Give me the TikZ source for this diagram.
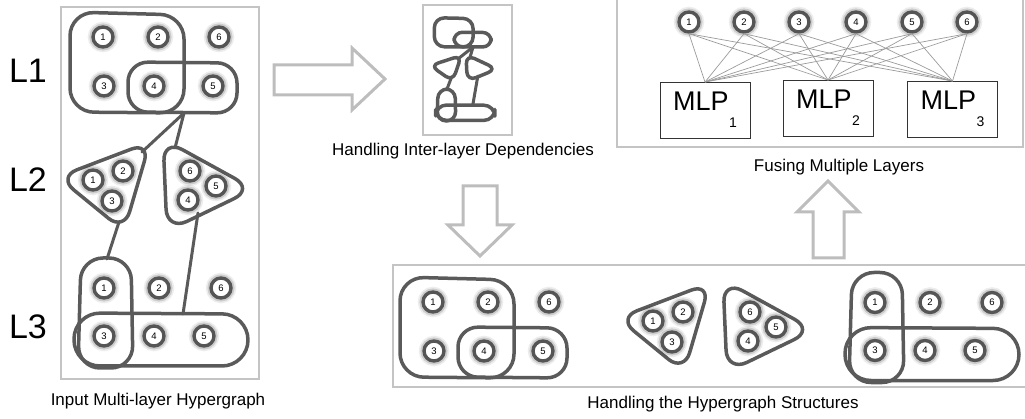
\documentclass[tikz,border=0pt]{standalone}
\usepackage{fontspec}
\setmainfont{Liberation Sans}

\definecolor{ringc}{HTML}{555555}
\definecolor{edgec}{HTML}{5A5A5A}
\definecolor{framec}{HTML}{C4C4C4}
\definecolor{arrowc}{HTML}{BDBDBD}
\definecolor{wirec}{HTML}{9A9A9A}

\tikzset{
  hn/.style={circle, draw=ringc, line width=3.4pt, minimum size=20pt, inner sep=0pt,
    fill=white, font=\fontsize{9.5}{9.5}\selectfont,
    preaction={draw=black, draw opacity=0.07, line width=10.5pt},
    preaction={draw=black, draw opacity=0.14, line width=7pt}},
  hedge/.style={draw=edgec, line width=3.5pt, line join=round},
  link/.style={draw=edgec, line width=3pt, line cap=round},
  frame/.style={draw=framec, line width=1.1pt},
  bigarrow/.style={draw=arrowc, line width=3pt, line join=miter},
  caption/.style={font=\fontsize{17}{19}\selectfont, inner sep=0pt},
  layer/.style={font=\fontsize{34}{34}\selectfont, inner sep=0pt},
  mlp/.style={draw=black!80, line width=0.9pt, minimum width=90pt, minimum height=56pt,
    inner sep=0pt, font=\fontsize{27}{27}\selectfont},
  wire/.style={draw=wirec, line width=0.7pt}
}

% corner radius factor for the hyperedge outlines
\newcommand\hr{1}
% subscript set well below the baseline
\newcommand\lowsub[1]{\kern0.5pt\raisebox{-17pt}{\fontsize{14}{14}\selectfont #1}}

% layer 1: two hyperedges and six vertices
\newcommand\edgesA{%
  \draw[hedge, rounded corners=\hr*24pt] (70,12) -- (184,15) -- (184,113) -- (70,112) -- cycle;
  \draw[hedge, rounded corners=\hr*20pt] (128,62) -- (237,63) -- (237,113) -- (128,112) -- cycle;
}
\newcommand\nodesA{%
  \node[hn] (n1) at (103,37) {1};
  \node[hn] (n2) at (158,37) {2};
  \node[hn] (n6) at (219,37) {6};
  \node[hn] (n3) at (104,86) {3};
  \node[hn] (n4) at (154,86) {4};
  \node[hn] (n5) at (213,86) {5};
}
% layer 2: two triangular hyperedges
\newcommand\edgesB{%
  \draw[hedge, rounded corners=\hr*20pt] (58,177) -- (150,142) -- (124,231) -- cycle;
  \draw[hedge, rounded corners=\hr*22pt] (163,139) -- (254,189) -- (167,231) -- cycle;
}
\newcommand\nodesB{%
  \node[hn] (n1) at (93,180) {1};
  \node[hn] (n2) at (123,171) {2};
  \node[hn] (n3) at (112,201) {3};
  \node[hn] (n6) at (190,171) {6};
  \node[hn] (n5) at (216,186) {5};
  \node[hn] (n4) at (188,200) {4};
}
% layer 3: vertical and horizontal hyperedges
\newcommand\edgesC{%
  \draw[hedge, rounded corners=\hr*22pt] (81,258) -- (131,258) -- (133,368) -- (78,368) -- cycle;
  \draw[hedge, rounded corners=\hr*26pt] (74,313) -- (248,314) -- (248,366) -- (74,366) -- cycle;
}
\newcommand\nodesC{%
  \node[hn] (n1) at (104,288) {1};
  \node[hn] (n2) at (159,288) {2};
  \node[hn] (n6) at (221,288) {6};
  \node[hn] (n3) at (104,336) {3};
  \node[hn] (n4) at (154,336) {4};
  \node[hn] (n5) at (204,336) {5};
}
% inter-layer dependency links
\newcommand\linksAll{%
  \coordinate (j1) at (184,113);
  \coordinate (j2) at (142,152);
  \coordinate (j3) at (175,148);
  \coordinate (j4) at (119,222);
  \coordinate (j5) at (107,259);
  \coordinate (j6) at (198,213);
  \coordinate (j7) at (183,314);
  \draw[link] (j1) -- (j2);
  \draw[link] (j1) -- (j3);
  \draw[link] (j4) -- (j5);
  \draw[link] (j6) -- (j7);
}

\begin{document}
\begin{tikzpicture}[x=1pt,y=-1pt]
\useasboundingbox (0,0) rectangle (1025,419);

% ---------- input multi-layer hypergraph ----------
\draw[frame] (61,7) rectangle (259,379);
\begin{scope}[name prefix=a-]
  \edgesA \edgesB \edgesC \linksAll
  \nodesA
\end{scope}
\begin{scope}[name prefix=b-]
  \nodesB
\end{scope}
\begin{scope}[name prefix=c-]
  \nodesC
\end{scope}
\node[layer] (l1) at (28,71) {L1};
\node[layer] (l2) at (28,180) {L2};
\node[layer] (l3) at (28,327) {L3};
\node[caption] (capA) at (158,401) {Input Multi-layer Hypergraph};

% ---------- inter-layer dependencies ----------
\draw[bigarrow] (274,65) -- (352,65) -- (352,48) -- (385,79) -- (352,110) -- (352,95) -- (274,95) -- cycle;
\draw[frame] (423,5) rectangle (512,135);
\begin{scope}[shift={(435,18)}, xscale=0.34, yscale=0.29, shift={(-72,-13)}, name prefix=m-]
  \renewcommand\hr{0.42}
  \edgesA \edgesB \edgesC \linksAll
\end{scope}
\node[caption] (capB) at (463,151) {Handling Inter-layer Dependencies};

% ---------- hypergraph structures ----------
\draw[bigarrow] (463,186) -- (497,186) -- (497,225) -- (512,225) -- (480,256) -- (448,225) -- (463,225) -- cycle;
\draw[frame] (393,265) rectangle (1035,387);
\begin{scope}[shift={(330,265)}, name prefix=s1-]
  \edgesA \nodesA
\end{scope}
\begin{scope}[shift={(560,141)}, name prefix=s2-]
  \edgesB \nodesB
\end{scope}
\begin{scope}[shift={(771,14.5)}, name prefix=s3-]
  \edgesC \nodesC
\end{scope}
\node[caption] (capC) at (723,404) {Handling the Hypergraph Structures};

% ---------- fusing multiple layers ----------
\draw[bigarrow] (813,258) -- (844,258) -- (844,212) -- (859,212) -- (828,181) -- (797,212) -- (813,212) -- cycle;
\draw[frame] (617,-5) rectangle (1023,147);
\foreach \i/\x in {1/689,2/744,3/799,4/856,5/912,6/967}
  \node[hn] (f\i) at (\x,22) {\i};
\node[mlp, text depth=19pt] (m1) at (705,110.5) {MLP\lowsub{1}};
\node[mlp, text depth=19pt] (m2) at (828,108.5) {MLP\lowsub{2}};
\node[mlp, text depth=19pt] (m3) at (952.5,109.5) {MLP\lowsub{3}};
\foreach \i in {1,...,6}
  \foreach \j in {1,2,3}
    \draw[wire] (f\i.south) -- (m\j.north);
\node[caption] (capD) at (839,167) {Fusing Multiple Layers};
\end{tikzpicture}
\end{document}
